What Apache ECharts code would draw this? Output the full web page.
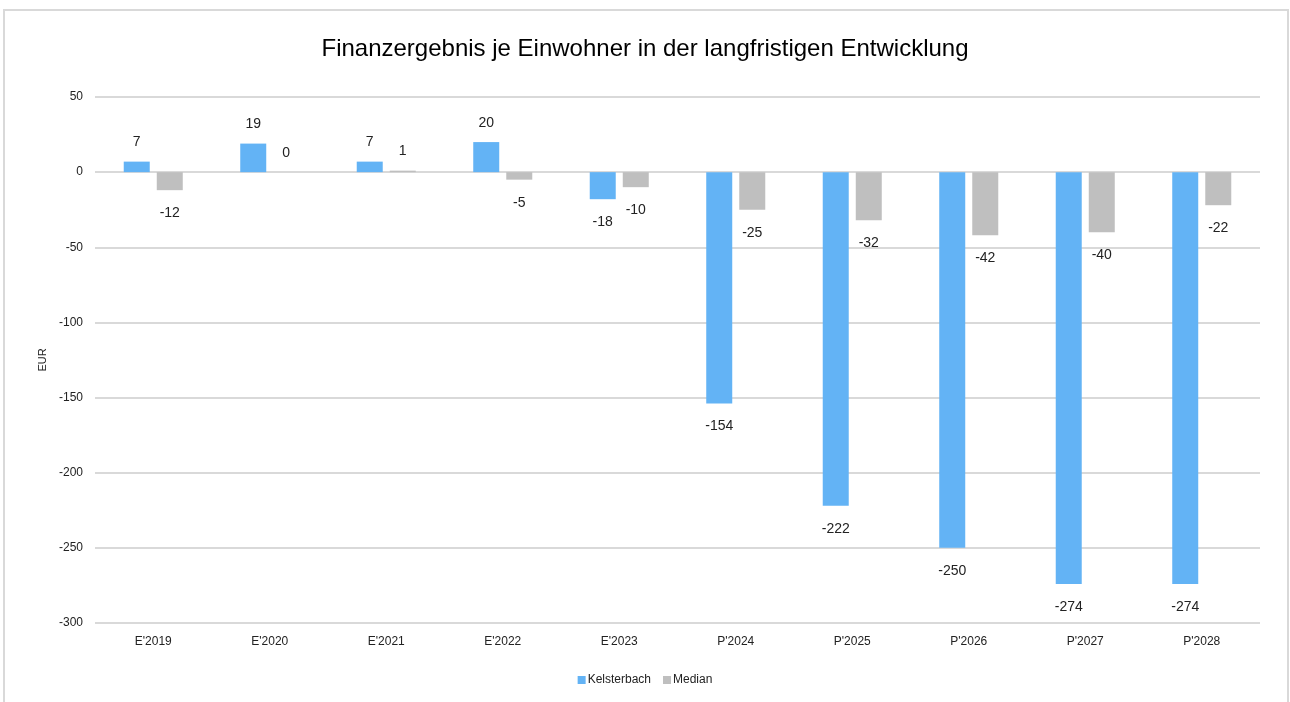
<!DOCTYPE html>
<html>
<head>
<meta charset="utf-8">
<script src="https://cdn.jsdelivr.net/npm/echarts@6/dist/echarts.min.js"></script>
<style>
  html, body { margin: 0; padding: 0; background: #fff; }
  #chart { width: 1290px; height: 702px; }
</style>
</head>
<body>
<div id="chart"></div>
<script>
let categories = ["E'2019", "E'2020", "E'2021", "E'2022", "E'2023", "P'2024", "P'2025", "P'2026", "P'2027", "P'2028"];
let kelsterbach = [7, 19, 7, 20, -18, -154, -222, -250, -274, -274];
let median = [-12, 0, 1, -5, -10, -25, -32, -42, -40, -22];
let yTicks = { min: -300, max: 50, interval: 50 };

const FONT = '"Liberation Sans", Arial, sans-serif';

// labels outside the bar end: above for positive, below for negative
function withLabels(values) {
  return values.map(function (v) {
    return { value: v, label: v < 0 ? { position: 'bottom', distance: 16 } : { position: 'top', distance: 12 } };
  });
}

let mychart = echarts.init(document.getElementById('chart'));
mychart.setOption({
  animation: false,
  title: {
    text: 'Finanzergebnis je Einwohner in der langfristigen Entwicklung',
    left: 'center',
    top: 32,
    textStyle: { fontFamily: FONT, fontSize: 24, fontWeight: 'normal', color: '#000' }
  },
  graphic: [{
    type: 'polyline',
    shape: { points: [[4, 710], [4, 10], [1288, 10], [1288, 710]] },
    style: { stroke: '#d9d9d9', lineWidth: 2, fill: null },
    silent: true
  }],
  legend: {
    bottom: 11,
    left: 'center',
    itemWidth: 8,
    itemHeight: 8,
    itemGap: 12,
    icon: 'rect',
    textStyle: { fontFamily: FONT, fontSize: 12, color: '#222', padding: [0, 0, 0, -3] },
    data: ['Kelsterbach', 'Median']
  },
  grid: { left: 95, right: 30, top: 97, bottom: 79, containLabel: false },
  xAxis: {
    type: 'category',
    data: categories,
    axisLine: { show: false },
    axisTick: { show: false },
    axisLabel: { fontFamily: FONT, fontSize: 12, color: '#222', margin: 13 }
  },
  yAxis: {
    type: 'value',
    min: yTicks.min,
    max: yTicks.max,
    interval: yTicks.interval,
    name: 'EUR',
    nameLocation: 'middle',
    nameGap: 45,
    nameTextStyle: { fontFamily: FONT, fontSize: 11, color: '#222' },
    axisLine: { show: false },
    axisTick: { show: false },
    axisLabel: { fontFamily: FONT, fontSize: 12, color: '#222', margin: 12 },
    splitLine: { lineStyle: { color: '#d9d9d9', width: 2 } }
  },
  series: [
    {
      name: 'Kelsterbach',
      type: 'bar',
      data: withLabels(kelsterbach),
      itemStyle: { color: '#63b3f5' },
      barWidth: 26,
      barGap: '27%',
      label: { show: true, fontFamily: FONT, fontSize: 14, color: '#222' }
    },
    {
      name: 'Median',
      type: 'bar',
      data: withLabels(median),
      itemStyle: { color: '#bfbfbf' },
      barWidth: 26,
      label: { show: true, fontFamily: FONT, fontSize: 14, color: '#222' }
    }
  ]
});
</script>
</body>
</html>
